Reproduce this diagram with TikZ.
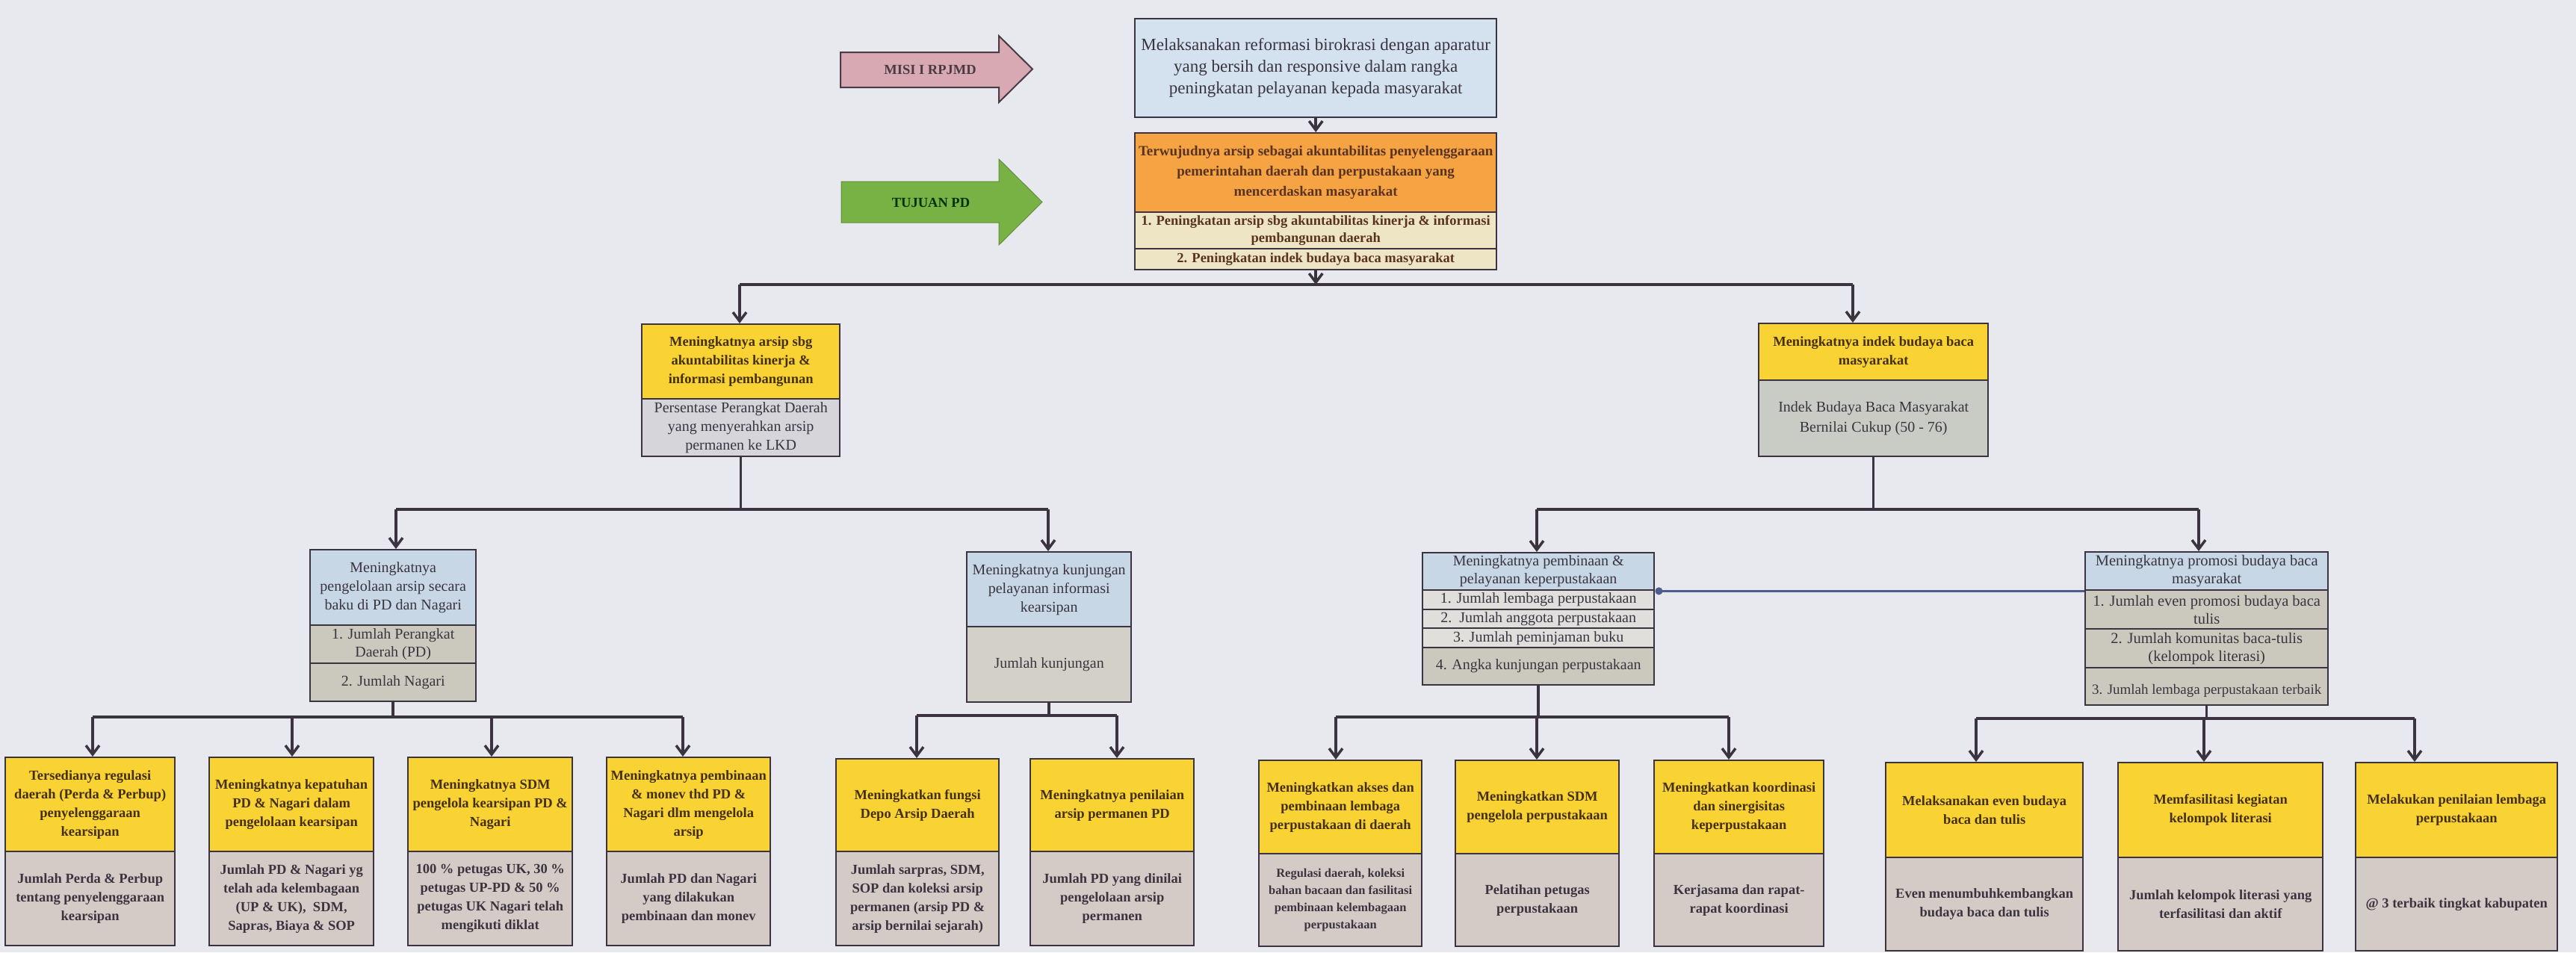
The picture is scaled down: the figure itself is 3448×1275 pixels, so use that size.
\documentclass[tikz,border=0pt]{standalone}
\usepackage{fontspec}
\setmainfont{Liberation Serif}
\usetikzlibrary{arrows.meta}
\definecolor{paper}{HTML}{E8E9EE}
\definecolor{linec}{HTML}{3B3340}
\definecolor{topblue}{HTML}{D3E2EE}
\definecolor{orangef}{HTML}{F6A443}
\definecolor{creamf}{HTML}{EEE5C4}
\definecolor{yellowf}{HTML}{F9D333}
\definecolor{greyA}{HTML}{D6D5DA}
\definecolor{greyB}{HTML}{C9CBC5}
\definecolor{l3blue}{HTML}{C8D7E5}
\definecolor{l3row}{HTML}{CBC9BE}
\definecolor{l3grey}{HTML}{D3D1C7}
\definecolor{l3light}{HTML}{E0DFDC}
\definecolor{botgrey}{HTML}{D5CBC6}
\definecolor{misipink}{HTML}{D8A9B2}
\definecolor{misiedge}{HTML}{4A3A44}
\definecolor{tujgreen}{HTML}{78B244}
\definecolor{txt}{HTML}{3A3440}
\definecolor{ytxt}{HTML}{45300E}
\definecolor{otxt}{HTML}{5A3320}
\definecolor{linkblue}{HTML}{4F5C8E}
\newcommand\fsz[2]{\fontsize{#1}{#2}\selectfont}
\newcommand\mkcell[7]{\node[cell,#6,minimum width=#4pt,minimum height=#5pt] (#1) at (#2,#3) {#7};}
\tikzset{
  cell/.style={draw=linec, line width=2.4pt, inner xsep=3pt, inner ysep=0pt, align=center, anchor=north west, text=txt},
  ybox/.style={fill=yellowf, text=ytxt, font=\bfseries\fsz{18.5}{25}},
  gbox/.style={fill=botgrey, text=txt, font=\bfseries\fsz{18.5}{25}},
  conn/.style={draw=linec, line width=3.5pt},
  arr/.style={conn, -{Straight Barb[length=12pt,width=18pt]}},
  bluelink/.style={draw=linkblue, line width=3pt, -{Circle[length=10pt]}},
  arrowlabel/.style={font=\bfseries\fsz{18.5}{20}}
}
\begin{document}
\begin{tikzpicture}[x=1pt,y=-1pt]
\useasboundingbox (0,0) rectangle (3448,1275);
\fill[paper] (0,0) rectangle (3448,1275);

% side arrows
\draw[line width=2pt, draw=misiedge, fill=misipink] (1125,70) -- (1337,70) -- (1337,48) -- (1382,92.5) -- (1337,137) -- (1337,117) -- (1125,117) -- cycle;
\node[arrowlabel, text=misiedge] (misi) at (1245,93) {MISI I RPJMD};
\draw[line width=1pt, draw=tujgreen!80!black, fill=tujgreen] (1126,243) -- (1337,243) -- (1337,213) -- (1395,270.5) -- (1337,328) -- (1337,298) -- (1126,298) -- cycle;
\node[arrowlabel, text=black!80!green] (tuj) at (1246,271) {TUJUAN PD};

% top
\mkcell{visi}{1518}{24}{484}{132}{fill=topblue,font=\fsz{23}{29}}{Melaksanakan reformasi birokrasi dengan aparatur\\yang bersih dan responsive dalam rangka\\peningkatan pelayanan kepada masyarakat}
\mkcell{tujuan}{1518}{177}{484}{106}{fill=orangef,text=otxt,font=\bfseries\fsz{19}{27}}{Terwujudnya arsip sebagai akuntabilitas penyelenggaraan\\pemerintahan daerah dan perpustakaan yang\\mencerdaskan masyarakat}
\mkcell{tp1}{1518}{283}{484}{49}{fill=creamf,text=otxt,font=\bfseries\fsz{18.5}{23}}{1. Peningkatan arsip sbg akuntabilitas kinerja \& informasi\\pembangunan daerah}
\mkcell{tp2}{1518}{332}{484}{28}{fill=creamf,text=otxt,font=\bfseries\fsz{18.5}{23}}{2. Peningkatan indek budaya baca masyarakat}

% level 2
\mkcell{l2ay}{858}{433}{265}{100}{ybox}{Meningkatnya arsip sbg\\akuntabilitas kinerja \&\\informasi pembangunan}
\mkcell{l2ag}{858}{533}{265}{77}{fill=greyA,font=\fsz{20}{25}}{Persentase Perangkat Daerah\\yang menyerahkan arsip\\permanen ke LKD}
\mkcell{l2by}{2353}{432}{307}{76}{ybox}{Meningkatnya indek budaya baca\\masyarakat}
\mkcell{l2bg}{2353}{508}{307}{102}{fill=greyB,font=\fsz{20}{27}}{Indek Budaya Baca Masyarakat\\Bernilai Cukup (50 - 76)}

% level 3
\mkcell{l3ah}{414}{735}{222}{101}{fill=l3blue,font=\fsz{20}{25}}{Meningkatnya\\pengelolaan arsip secara\\baku di PD dan Nagari}
\mkcell{l3ar1}{414}{836}{222}{51}{fill=l3row,font=\fsz{20}{24}}{1. Jumlah Perangkat\\Daerah (PD)}
\mkcell{l3ar2}{414}{887}{222}{51}{fill=l3row,font=\fsz{20}{24}}{2. Jumlah Nagari}

\mkcell{l3bh}{1293}{738}{220}{100}{fill=l3blue,font=\fsz{20}{25}}{Meningkatnya kunjungan\\pelayanan informasi\\kearsipan}
\mkcell{l3bg}{1293}{838}{220}{101}{fill=l3grey,font=\fsz{20}{25}}{Jumlah kunjungan}

\mkcell{l3ch}{1903}{739}{310}{50}{fill=l3blue,font=\fsz{20}{24}}{Meningkatnya pembinaan \&\\pelayanan keperpustakaan}
\mkcell{l3cr1}{1903}{789}{310}{26}{fill=l3light,font=\fsz{20}{24}}{1. Jumlah lembaga perpustakaan}
\mkcell{l3cr2}{1903}{815}{310}{25}{fill=l3light,font=\fsz{20}{24}}{2.\ \ Jumlah anggota perpustakaan}
\mkcell{l3cr3}{1903}{840}{310}{26}{fill=l3light,font=\fsz{20}{24}}{3. Jumlah peminjaman buku}
\mkcell{l3cr4}{1903}{866}{310}{50}{fill=l3row,font=\fsz{20}{24}}{4. Angka kunjungan perpustakaan}

\mkcell{l3dh}{2790}{738}{325}{51}{fill=l3blue,font=\fsz{20.5}{24}}{Meningkatnya promosi budaya baca\\masyarakat}
\mkcell{l3dr1}{2790}{789}{325}{52}{fill=l3row,font=\fsz{20.5}{24}}{1. Jumlah even promosi budaya baca\\tulis}
\mkcell{l3dr2}{2790}{841}{325}{52}{fill=l3row,font=\fsz{20.5}{24}}{2. Jumlah komunitas baca-tulis\\(kelompok literasi)}
\mkcell{l3dr3}{2790}{893}{325}{50}{fill=l3row,font=\fsz{19}{24}}{~\\3. Jumlah lembaga perpustakaan terbaik}

% level 4, group A
\mkcell{l4ay}{6}{1013}{227}{126}{ybox}{Tersedianya regulasi\\daerah (Perda \& Perbup)\\penyelenggaraan\\kearsipan}
\mkcell{l4ag}{6}{1139}{227}{126}{gbox}{Jumlah Perda \& Perbup\\tentang penyelenggaraan\\kearsipan}
\mkcell{l4by}{279}{1013}{220}{126}{ybox}{Meningkatnya kepatuhan\\PD \& Nagari dalam\\pengelolaan kearsipan}
\mkcell{l4bg}{279}{1139}{220}{126}{gbox}{Jumlah PD \& Nagari yg\\telah ada kelembagaan\\(UP \& UK),\ \ SDM,\\Sapras, Biaya \& SOP}
\mkcell{l4cy}{545}{1013}{220}{126}{ybox}{Meningkatnya SDM\\pengelola kearsipan PD \&\\Nagari}
\mkcell{l4cg}{545}{1139}{220}{126}{gbox}{100 \% petugas UK, 30 \%\\petugas UP-PD \& 50 \%\\petugas UK Nagari telah\\mengikuti diklat}
\mkcell{l4dy}{811}{1013}{219}{126}{ybox}{Meningkatnya pembinaan\\\& monev thd PD \&\\Nagari dlm mengelola\\arsip}
\mkcell{l4dg}{811}{1139}{219}{126}{gbox}{Jumlah PD dan Nagari\\yang dilakukan\\pembinaan dan monev}

% group B
\mkcell{l4ey}{1118}{1015}{218}{124}{ybox}{Meningkatkan fungsi\\Depo Arsip Daerah}
\mkcell{l4eg}{1118}{1139}{218}{126}{gbox}{Jumlah sarpras, SDM,\\SOP dan koleksi arsip\\permanen (arsip PD \&\\arsip bernilai sejarah)}
\mkcell{l4fy}{1378}{1015}{219}{124}{ybox}{Meningkatnya penilaian\\arsip permanen PD}
\mkcell{l4fg}{1378}{1139}{219}{126}{gbox}{Jumlah PD yang dinilai\\pengelolaan arsip\\permanen}

% group C
\mkcell{l4gy}{1684}{1017}{218}{125}{ybox}{Meningkatkan akses dan\\pembinaan lembaga\\perpustakaan di daerah}
\mkcell{l4gg}{1684}{1142}{218}{124}{gbox,font=\bfseries\fsz{16.5}{23}}{Regulasi daerah, koleksi\\bahan bacaan dan fasilitasi\\pembinaan kelembagaan\\perpustakaan}
\mkcell{l4hy}{1947}{1017}{219}{125}{ybox}{Meningkatkan SDM\\pengelola perpustakaan}
\mkcell{l4hg}{1947}{1142}{219}{124}{gbox}{Pelatihan petugas\\perpustakaan}
\mkcell{l4iy}{2213}{1017}{227}{125}{ybox}{Meningkatkan koordinasi\\dan sinergisitas\\keperpustakaan}
\mkcell{l4ig}{2213}{1142}{227}{124}{gbox}{Kerjasama dan rapat-\\rapat koordinasi}

% group D
\mkcell{l4jy}{2523}{1020}{264}{127}{ybox}{Melaksanakan even budaya\\baca dan tulis}
\mkcell{l4jg}{2523}{1147}{264}{125}{gbox}{Even menumbuhkembangkan\\budaya baca dan tulis}
\mkcell{l4ky}{2834}{1020}{274}{127}{ybox}{Memfasilitasi kegiatan\\kelompok literasi}
\mkcell{l4kg}{2834}{1147}{274}{125}{gbox}{Jumlah kelompok literasi yang\\terfasilitasi dan aktif}
\mkcell{l4ly}{3152}{1020}{270}{127}{ybox}{Melakukan penilaian lembaga\\perpustakaan}
\mkcell{l4lg}{3152}{1147}{270}{125}{gbox}{@ 3 terbaik tingkat kabupaten}

% junction coordinates
\coordinate (h2L) at (990,381);
\coordinate (h2R) at (2480,381);
\coordinate (h3aL) at (530,682);
\coordinate (h3aR) at (1403,682);
\coordinate (h3bL) at (2057,682);
\coordinate (h3bR) at (2943,682);
\coordinate (ga1) at (124,960);
\coordinate (ga2) at (391,960);
\coordinate (ga3) at (658,960);
\coordinate (ga4) at (914,960);
\coordinate (gb1) at (1227,958);
\coordinate (gb2) at (1495,958);
\coordinate (gc1) at (1788,960);
\coordinate (gc2) at (2057,960);
\coordinate (gc3) at (2314,960);
\coordinate (gd1) at (2645,962);
\coordinate (gd2) at (2950,962);
\coordinate (gd3) at (3232,962);

% top connectors
\draw[arr] (visi.south) -- (tujuan.north);
\draw[arr] (tp2.south) -- (tp2.south |- h2L);
\draw[conn] (h2L) -- (h2R);
\draw[arr] (h2L) -- (h2L |- l2ay.north);
\draw[arr] (h2R) -- (h2R |- l2by.north);

% level 2 -> 3
\draw[conn] (l2ag.south) -- (l2ag.south |- h3aL);
\draw[conn] (h3aL) -- (h3aR);
\draw[arr] (h3aL) -- (h3aL |- l3ah.north);
\draw[arr] (h3aR) -- (h3aR |- l3bh.north);
\draw[conn] (l2bg.south) -- (l2bg.south |- h3bL);
\draw[conn] (h3bL) -- (h3bR);
\draw[arr] (h3bL) -- (h3bL |- l3ch.north);
\draw[arr] (h3bR) -- (h3bR |- l3dh.north);

% link between level-3 boxes
\draw[bluelink] (l3dh.south west) -- (l3ch.south east);

% level 3 -> 4
\draw[conn] (l3ar2.south) -- (l3ar2.south |- ga1);
\draw[conn] (ga1) -- (ga4);
\draw[arr] (ga1) -- (ga1 |- l4ay.north);
\draw[arr] (ga2) -- (ga2 |- l4by.north);
\draw[arr] (ga3) -- (ga3 |- l4cy.north);
\draw[arr] (ga4) -- (ga4 |- l4dy.north);

\draw[conn] (l3bg.south) -- (l3bg.south |- gb1);
\draw[conn] (gb1) -- (gb2);
\draw[arr] (gb1) -- (gb1 |- l4ey.north);
\draw[arr] (gb2) -- (gb2 |- l4fy.north);

\draw[conn] (l3cr4.south) -- (l3cr4.south |- gc1);
\draw[conn] (gc1) -- (gc3);
\draw[arr] (gc1) -- (gc1 |- l4gy.north);
\draw[arr] (gc2) -- (gc2 |- l4hy.north);
\draw[arr] (gc3) -- (gc3 |- l4iy.north);

\draw[conn] (l3dr3.south) -- (l3dr3.south |- gd1);
\draw[conn] (gd1) -- (gd3);
\draw[arr] (gd1) -- (gd1 |- l4jy.north);
\draw[arr] (gd2) -- (gd2 |- l4ky.north);
\draw[arr] (gd3) -- (gd3 |- l4ly.north);
\end{tikzpicture}
\end{document}
